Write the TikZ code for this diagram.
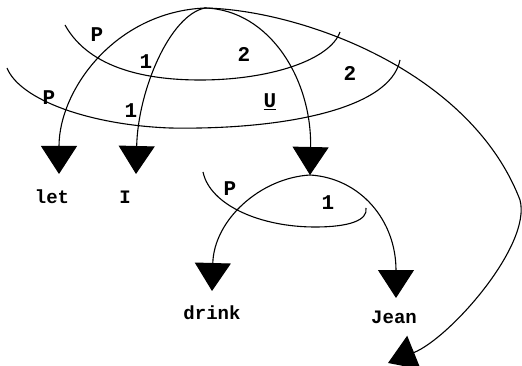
\documentclass[tikz,border=0pt]{standalone}
\usepackage{fontspec}
\setmonofont{Liberation Mono}
\usetikzlibrary{arrows.meta}

\begin{document}
\begin{tikzpicture}[x=1pt,y=-1pt,line width=1.1pt,
    dep/.style={-{Triangle[length=28pt,width=36pt]}},
    word/.style={font=\ttfamily\bfseries\fontsize{19}{21}\selectfont},
    lab/.style={font=\ttfamily\bfseries\fontsize{21}{23}\selectfont}]
    \useasboundingbox (0,0) rectangle (522,366);

    % Root, arrow tips and words
    \coordinate (root) at (205,8);
    \coordinate (tlet) at (59,174);
    \coordinate (tI) at (136,174);
    \coordinate (verb) at (310,175);
    \coordinate (tdrink) at (212,291);
    \coordinate (tJean) at (396,298);
    \coordinate (tfar) at (388,363);
    \node[word] (let) at (52,197) {let};
    \node[word] (I) at (125,197) {I};
    \node[word] (drink) at (212,313) {drink};
    \node[word] (Jean) at (394,317) {Jean};

    % Arrows from the root
    \draw[dep] (root) .. controls (115,12) and (59,90) .. (tlet);
    \draw[dep] (root) .. controls (170,15) and (138,90) .. (tI);
    \draw[dep] (root) .. controls (270,10) and (312,80) .. (verb);
    \draw[dep] (root) .. controls (300,10) and (470,70) .. (520,200)
        .. controls (532,245) and (450,338) .. (tfar);

    % Argument arcs of the root
    \draw (65,25) .. controls (90,70) and (150,80) .. (200,80)
        .. controls (270,80) and (330,60) .. (340,32);
    \draw (7,68) .. controls (20,100) and (90,125) .. (170,128)
        .. controls (280,130) and (390,110) .. (400,60);

    % Labels of the root arcs
    \node[lab] (p1) at (97,35) {P};
    \node[lab] (a1) at (146,62) {1};
    \node[lab] (b1) at (244,54) {2};
    \node[lab] (b2) at (350,73) {2};
    \node[lab] (p2) at (49,98) {P};
    \node[lab] (a2) at (131,111) {1};
    \node[lab] (u2) at (270,102) {\underline{U}};

    % Arrows from the verb
    \draw[dep] (verb) .. controls (260,178) and (214,220) .. (tdrink);
    \draw[dep] (verb) .. controls (360,178) and (396,220) .. (tJean);

    % Argument arc of the verb
    \draw (203,172) .. controls (210,205) and (260,227) .. (315,227)
        .. controls (350,227) and (368,220) .. (366,208);
    \node[lab] (p3) at (230,189) {P};
    \node[lab] (a3) at (328,203) {1};

\end{tikzpicture}
\end{document}
